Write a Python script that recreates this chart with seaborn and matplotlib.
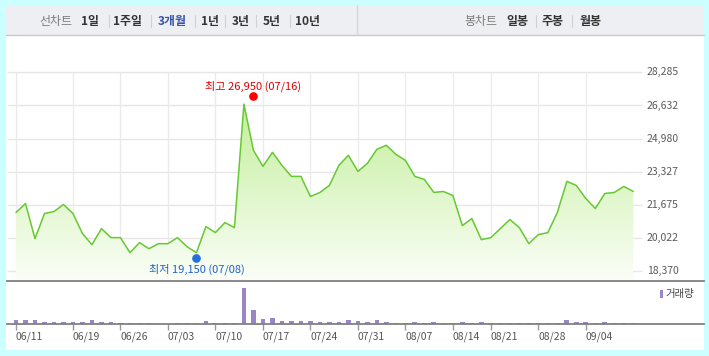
import numpy as np
import pandas as pd
import matplotlib
matplotlib.use("Agg")
import matplotlib.pyplot as plt
import matplotlib.transforms as mtransforms
from matplotlib.patches import Rectangle
from matplotlib.lines import Line2D
from matplotlib.colors import LinearSegmentedColormap
import seaborn as sns

# ---------------- data ----------------
prices = [21300, 21750, 20000, 21250, 21350, 21700, 21250, 20250, 19700, 20500,
          20050, 20050, 19300, 19800, 19500, 19750, 19750, 20050, 19600, 19300,
          20600, 20300, 20800, 20550, 26700, 24400, 23600, 24300, 23650, 23100,
          23100, 22100, 22300, 22650, 23650, 24150, 23350, 23750, 24450, 24650,
          24200, 23900, 23100, 22950, 22300, 22350, 22150, 20650, 21000, 19950,
          20050, 20500, 20950, 20550, 19750, 20200, 20300, 21300, 22850, 22650,
          22000, 21500, 22250, 22300, 22600, 22350]
volumes = [120, 120, 120, 60, 60, 60, 60, 60, 120, 60,
           60, 30, 30, 30, 30, 0, 0, 30, 30, 30,
           90, 30, 30, 30, 1090, 420, 150, 180, 90, 90,
           90, 90, 60, 60, 60, 120, 90, 60, 120, 60,
           30, 30, 60, 30, 60, 30, 30, 60, 30, 60,
           30, 30, 30, 30, 30, 30, 30, 30, 120, 60,
           60, 30, 60, 30, 30, 30]
tick_labels = ["06/11", "06/19", "06/26", "07/03", "07/10", "07/17", "07/24",
               "07/31", "08/07", "08/14", "08/21", "08/28", "09/04"]
ytick_values = [18370, 20022, 21675, 23327, 24980, 26632, 28285]
high_value, high_date = 26950, "07/16"
low_value, low_date = 19150, "07/08"
left_tabs = ["1일", "1주일", "3개월", "1년", "3년", "5년", "10년"]
right_tabs = ["일봉", "주봉", "월봉"]

dates = [d for d in pd.bdate_range("2019-06-11", "2019-09-11")
         if d != pd.Timestamp("2019-08-15")]
date_labels = [d.strftime("%m/%d") for d in dates]
idx = np.arange(len(prices))
df = pd.DataFrame({"idx": idx, "price": prices, "volume": volumes,
                   "date": date_labels[:len(prices)]})
tick_pos = [date_labels.index(t) for t in tick_labels]
high_idx = date_labels.index(high_date)
low_idx = date_labels.index(low_date)

# ---------------- style ----------------
sns.set_theme(style="white")
plt.rcParams["font.family"] = ["Noto Sans CJK KR", "DejaVu Sans"]

W, H = 709, 356
fig = plt.figure(figsize=(W / 100, H / 100), dpi=100)
fig.patch.set_facecolor("#ccffff")


def fx(x):
    return x / W


def fy(y):
    return 1 - y / H


# white panel + tab bar (behind the axes)
fig.patches.append(Rectangle((fx(6), fy(350)), 698 / W, 345 / H,
                             transform=fig.transFigure, facecolor="white",
                             edgecolor="none", zorder=-2))
fig.patches.append(Rectangle((fx(6), fy(35)), 698 / W, 30 / H,
                             transform=fig.transFigure, facecolor="#eeeff3",
                             edgecolor="none", zorder=-1))
fig.lines.append(Line2D([fx(6), fx(704)], [fy(35), fy(35)],
                        transform=fig.transFigure, color="#c8c8cc", lw=1))
fig.lines.append(Line2D([fx(357), fx(357)], [fy(5), fy(35)],
                        transform=fig.transFigure, color="#d6d6da", lw=1))

# tabs text
tab_y = fy(21)
fig.text(fx(55.5), tab_y, "선차트", ha="center", va="center", fontsize=8.6,
         color="#7a7a7a")
left_x = [90.5, 127.5, 172, 210, 241, 271.5, 308]
left_sep = [108.5, 150.5, 194.5, 224.5, 255.5, 289.5]
for t, x in zip(left_tabs, left_x):
    fig.text(fx(x), tab_y, t, ha="center", va="center", fontsize=8.6,
             fontweight="bold", color="#3654a8" if t == "3개월" else "#333333")
for x in left_sep:
    fig.lines.append(Line2D([fx(x), fx(x)], [fy(15), fy(27)],
                            transform=fig.transFigure, color="#d0d0d4", lw=0.8))
fig.text(fx(480.5), tab_y, "봉차트", ha="center", va="center", fontsize=8.6,
         color="#7a7a7a")
right_x = [517.5, 553, 590.5]
for t, x in zip(right_tabs, right_x):
    fig.text(fx(x), tab_y, t, ha="center", va="center", fontsize=8.6,
             fontweight="bold", color="#333333")
for x in [535.8, 572]:
    fig.lines.append(Line2D([fx(x), fx(x)], [fy(15), fy(27)],
                            transform=fig.transFigure, color="#d0d0d4", lw=0.8))

# ---------------- axes ----------------
px_per_idx = (633.3 - 16) / (len(prices) - 1)
xlim0 = -(16 - 7) / px_per_idx
xlim1 = xlim0 + 697 / px_per_idx
grid_end = xlim0 + (641.7 - 7) / px_per_idx
price_ylim = (17890, 28285)

ax = fig.add_axes([fx(7), fy(281), 697 / W, (281 - 72.3) / H])
axv = fig.add_axes([fx(7), fy(324), 697 / W, (324 - 281.5) / H])
for a in (ax, axv):
    a.set_facecolor("none")
    for s in ("left", "right", "top"):
        a.spines[s].set_visible(False)
    a.spines["bottom"].set_color("#808080")
    a.spines["bottom"].set_linewidth(1.3)

# grid
ax.set_xlim(xlim0, xlim1)
ax.set_ylim(*price_ylim)
ax.set_xticks(tick_pos)
ax.grid(axis="x", color="#ebebeb", lw=1)
ax.tick_params(axis="x", length=0, labelbottom=False)
ax.set_yticks([])
ax.hlines(ytick_values, xlim0, grid_end, color="#e6e6e6", lw=1,
          clip_on=False, zorder=0.5)
for v in ytick_values:
    ax.text(0.918, v, f"{v:,}", transform=ax.get_yaxis_transform(),
            ha="left", va="center", fontsize=7.5, color="#5a5a5a")

# gradient fill
poly = ax.fill_between(idx, prices, price_ylim[0], facecolor="none",
                       edgecolor="none")
cmap = LinearSegmentedColormap.from_list("g", ["#fbfef8", "#c4ef9c"])
grad = np.linspace(0, 1, 256).reshape(-1, 1)
im = ax.imshow(grad, cmap=cmap, origin="lower", aspect="auto",
               extent=[0, len(prices) - 1, price_ylim[0], max(prices)],
               zorder=1)
im.set_clip_path(poly.get_paths()[0], ax.transData)

sns.lineplot(data=df, x="idx", y="price", ax=ax, color="#66c832",
             linewidth=1.1, zorder=3)
ax.set_xlim(xlim0, xlim1)
ax.set_ylim(*price_ylim)
ax.set_xlabel("")
ax.set_ylabel("")

# high / low markers
up = mtransforms.offset_copy(ax.transData, fig=fig, x=0, y=2.7, units="dots")
dn = mtransforms.offset_copy(ax.transData, fig=fig, x=0, y=-2.7, units="dots")
ax.plot([high_idx], [high_value], "o", color="#ff0000", ms=5.2, transform=up,
        zorder=4, clip_on=False)
ax.plot([low_idx], [low_value], "o", color="#1f6fdc", ms=5.2, transform=dn,
        zorder=4, clip_on=False)
ax.annotate(f"최고 {high_value:,} ({high_date})", (high_idx, high_value),
            xytext=(0, 9.6), textcoords="offset points", ha="center",
            va="center", fontsize=8, color="#e00000")
ax.annotate(f"최저 {low_value:,} ({low_date})", (low_idx, low_value),
            xytext=(0, -9.8), textcoords="offset points", ha="center",
            va="center", fontsize=8, color="#1f62c8")

# volume (categorical positions 0..n-1 == idx)
sns.barplot(data=df, x="idx", y="volume", order=list(idx), ax=axv,
            color="#9a85c5", width=0.5, saturation=1, errorbar=None,
            linewidth=0, edgecolor="none")
axv.set_xlim(xlim0, xlim1)
axv.set_ylim(0, 1275)
axv.set_yticks([])
axv.set_xlabel("")
axv.set_ylabel("")
axv.set_xticks(tick_pos)
axv.set_xticklabels(tick_labels, ha="left")
axv.tick_params(axis="x", bottom=True, length=4, width=1, color="#999999",
                labelsize=7.5, labelcolor="#555555", pad=1.5)

# volume legend
fig.patches.append(Rectangle((fx(660), fy(298)), 3 / W, 8 / H,
                             transform=fig.transFigure, facecolor="#9a85c5",
                             edgecolor="none", zorder=5))
fig.text(fx(665), fy(294), "거래량", ha="left", va="center", fontsize=7.5,
         color="#444444")

fig.savefig("out.png", dpi=100, facecolor=fig.get_facecolor())
